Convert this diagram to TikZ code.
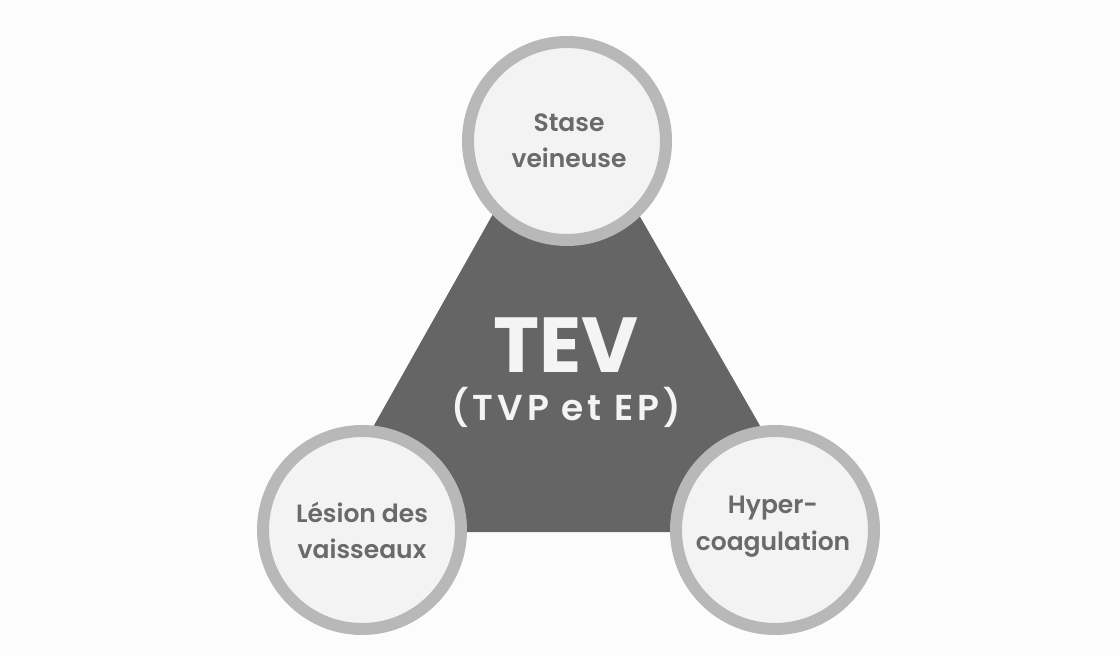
\documentclass[tikz,border=0pt]{standalone}
\usepackage{fontspec}
\setmainfont{Poppins}
\newfontfamily\semib{Poppins SemiBold}
\newfontfamily\subfont{Poppins SemiBold}[LetterSpace=11]
\definecolor{bg}{HTML}{FCFCFC}
\definecolor{tri}{HTML}{656565}
\definecolor{ring}{HTML}{B8B8B8}
\definecolor{disc}{HTML}{F3F3F3}
\definecolor{txt}{HTML}{6A6A6A}
\definecolor{big}{HTML}{F4F4F4}
\tikzset{
  factor/.style={circle, fill=disc, draw=ring, line width=12pt, minimum size=198pt, inner sep=0pt},
  ftext/.style={font=\semib\fontsize{25}{36}\selectfont, text=txt, align=center, anchor=base},
}
\begin{document}
\begin{tikzpicture}[x=1pt,y=-1pt]
\useasboundingbox (0,0) rectangle (1120,655);
\fill[bg] (0,0) rectangle (1120,655);
\fill[tri] (565,86) -- (314,532) -- (821,532) -- cycle;
\node[font=\bfseries\fontsize{78}{78}\selectfont, text=big, anchor=base] (tev) at (566,372) {TEV};
\node[font=\subfont\fontsize{36}{36}\selectfont, text=big, anchor=base] (sub) at (566,420) {(TVP et EP)};
\node[factor] (stase) at (567,141) {};
\node[factor] (lesion) at (362,530) {};
\node[factor] (hyper) at (775,530) {};
\node[ftext] (t1a) at (569,132) {Stase};
\node[ftext] (t1b) at (569,168) {veineuse};
\node[ftext] (t2a) at (362,522) {Lésion des};
\node[ftext] (t2b) at (362,558) {vaisseaux};
\node[ftext] (t3a) at (773,513) {Hyper-};
\node[ftext] (t3b) at (773,550) {coagulation};
\end{tikzpicture}
\end{document}
